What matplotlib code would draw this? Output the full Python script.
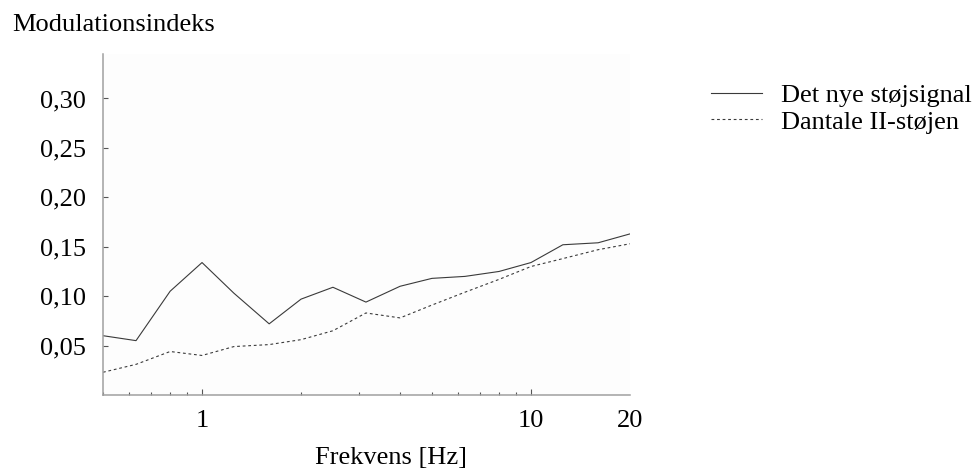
import matplotlib
matplotlib.use("Agg")
import matplotlib.pyplot as plt
from matplotlib.ticker import FixedLocator, NullFormatter

# 1/3-octave band centre frequencies [Hz]
freq = [0.5, 0.63, 0.8, 1.0, 1.25, 1.6, 2.0, 2.5, 3.15, 4.0, 5.0,
        6.3, 8.0, 10.0, 12.5, 16.0, 20.0]

# modulation index per band
mod_new = [0.060, 0.055, 0.105, 0.134, 0.103, 0.072, 0.097, 0.109, 0.094,
           0.110, 0.118, 0.120, 0.125, 0.134, 0.152, 0.154, 0.163]
mod_dantale = [0.023, 0.031, 0.044, 0.040, 0.049, 0.051, 0.056, 0.065, 0.083,
               0.078, 0.091, 0.104, 0.117, 0.130, 0.138, 0.147, 0.153]

series_names = ["Det nye støjsignal", "Dantale II-støjen"]

y_ticks = [0.05, 0.10, 0.15, 0.20, 0.25, 0.30]
y_labels = ["0,05", "0,10", "0,15", "0,20", "0,25", "0,30"]
x_ticks = [1, 10, 20]
x_labels = ["1", "10", "20"]
x_minor = [0.5, 0.6, 0.7, 0.8, 0.9, 2, 3, 4, 5, 6, 7, 8, 9]

plt.rcParams['font.family'] = ['Liberation Serif', 'DejaVu Serif']
FS = 19

fig = plt.figure(figsize=(9.75, 4.71), dpi=100)
ax = fig.add_axes([103/975, 1 - 395/471, (630 - 103)/975, (395 - 54)/471])
ax.set_facecolor('#fdfdfd')

ax.plot(freq, mod_new, color='#3a3a3a', lw=0.8, label=series_names[0])
ax.plot(freq, mod_dantale, color='#3a3a3a', lw=0.8, linestyle=(0, (2.5, 2.5)),
        label=series_names[1])

ax.set_xscale('log')
ax.set_xlim(0.5, 20)
ax.set_ylim(0, 0.345)

ax.xaxis.set_major_locator(FixedLocator(x_ticks))
ax.set_xticklabels(x_labels)
ax.xaxis.set_minor_locator(FixedLocator(x_minor))
ax.xaxis.set_minor_formatter(NullFormatter())
ax.set_yticks(y_ticks)
ax.set_yticklabels(y_labels)

for s in ['top', 'right']:
    ax.spines[s].set_visible(False)
for s in ['left', 'bottom']:
    ax.spines[s].set_color('#a0a0a0')
    ax.spines[s].set_linewidth(1.1)

ax.tick_params(axis='both', which='major', direction='in', labelsize=FS,
               color='#555555', width=0.8)
ax.tick_params(axis='y', which='major', length=3.8, pad=12)
ax.tick_params(axis='x', which='major', length=4.2, pad=11)
ax.tick_params(axis='x', which='minor', direction='in', length=2.4,
               color='#555555', width=0.8)
# no tick mark at the 20 Hz end, only the label
ax.xaxis.get_major_ticks()[2].tick1line.set_visible(False)

fig.text(12/975, 1 - 25/471, "Modulationsindeks", fontsize=FS,
         ha='left', va='center')
fig.text(391/975, 1 - 458/471, "Frekvens [Hz]", fontsize=FS,
         ha='center', va='center')

leg = ax.legend(loc='upper left', bbox_to_anchor=(711/975, 1 - 84/471),
                bbox_transform=fig.transFigure, frameon=False, fontsize=FS,
                handlelength=1.93, handletextpad=0.72, labelspacing=0.1,
                borderpad=0, borderaxespad=0)

fig.savefig("out.png", dpi=100)
